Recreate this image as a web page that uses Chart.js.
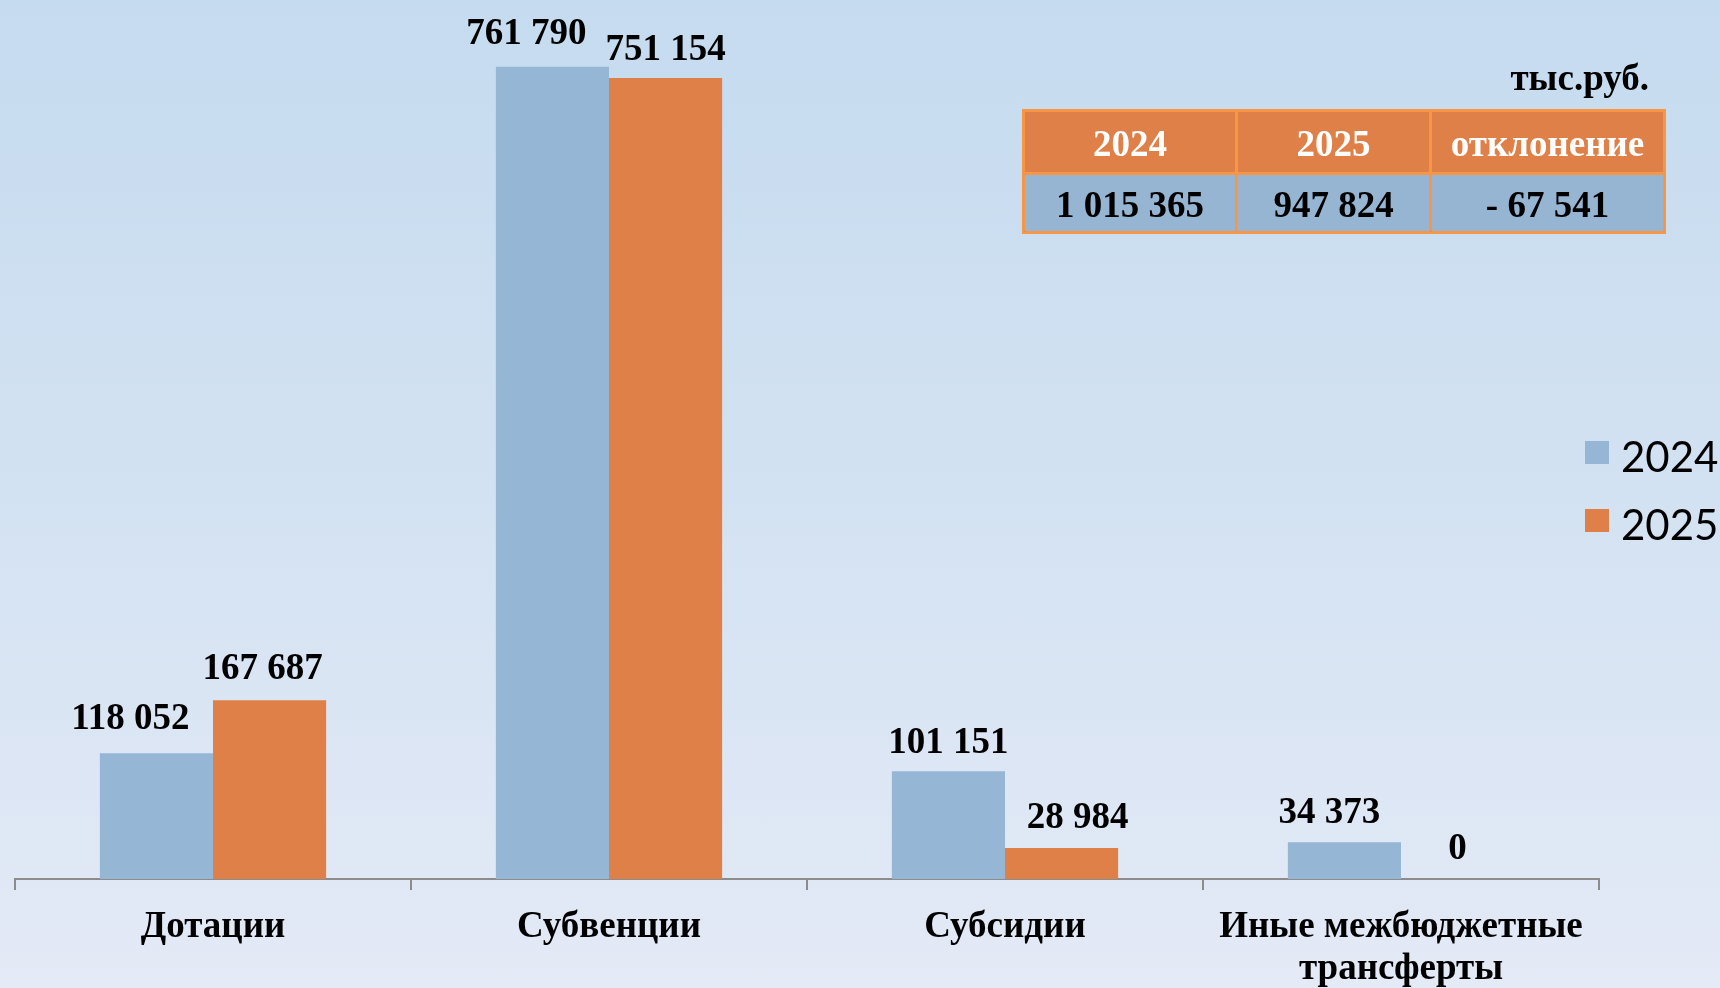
<!DOCTYPE html>
<html>
<head>
<meta charset="utf-8">
<script src="https://cdn.jsdelivr.net/npm/chart.js@4/dist/chart.umd.min.js"></script>
<style>
html,body{margin:0;padding:0;width:1720px;height:988px;overflow:hidden;}
body{position:relative;background:linear-gradient(to bottom,#C5DBEF 0%,#D3E2F2 50%,#E4EAF6 100%);}
#c{position:absolute;left:0;top:0;}
#unit{position:absolute;right:71px;top:59px;font:bold 37px 'Liberation Serif';line-height:37px;color:#000;white-space:nowrap;}
#tbl{position:absolute;left:1022px;top:109px;border-collapse:collapse;table-layout:fixed;}
#tbl td{border:3px solid #F79646;text-align:center;vertical-align:middle;font:bold 37px 'Liberation Serif';white-space:nowrap;}
#tbl tr.h td{background:#DF8049;color:#fff;height:57px;padding:3px 0 0 0;}
#tbl tr.v td{background:#95B5D3;color:#000;height:53px;padding:3px 0 0 0;}
</style>
</head>
<body>
<canvas id="c" width="1720" height="988"></canvas>
<div id="unit"></div>
<table id="tbl"><colgroup><col style="width:213px"><col style="width:194px"><col style="width:234px"></colgroup><tbody></tbody></table>
<script>
// ---- data ----
const categories = ['Дотации', 'Субвенции', 'Субсидии', ['Иные межбюджетные', 'трансферты']];
const seriesNames = ['2024', '2025'];
const values2024 = [118052, 761790, 101151, 34373];
const values2025 = [167687, 751154, 28984, 0];
const tableHeaders = ['2024', '2025', 'отклонение'];
const tableValues = ['1 015 365', '947 824', '- 67 541'];
const unitLabel = 'тыс.руб.';

const colors = ['#95B6D4', '#DE8047'];

function fmt(n) { return String(n).replace(/\B(?=(\d{3})+(?!\d))/g, ' '); }

// ---- table ----
document.getElementById('unit').textContent = unitLabel;
const tbody = document.querySelector('#tbl tbody');
const trh = document.createElement('tr'); trh.className = 'h';
tableHeaders.forEach(t => { const td = document.createElement('td'); td.textContent = t; trh.appendChild(td); });
const trv = document.createElement('tr'); trv.className = 'v';
tableValues.forEach(t => { const td = document.createElement('td'); td.textContent = t; trv.appendChild(td); });
tbody.appendChild(trh); tbody.appendChild(trv);

// ---- plugins ----
const valueLabels = {
  id: 'valueLabels',
  afterDatasetsDraw(chart, args, opts) {
    const ctx = chart.ctx;
    ctx.save();
    ctx.font = opts.font;
    ctx.fillStyle = '#000';
    ctx.textAlign = 'center';
    ctx.textBaseline = 'alphabetic';
    chart.data.datasets.forEach((ds, di) => {
      const meta = chart.getDatasetMeta(di);
      meta.data.forEach((bar, i) => {
        const dx = opts.dx[di][i], gap = opts.gap[di][i];
        ctx.fillText(fmt(ds.data[i]), bar.x + dx, bar.y - gap);
      });
    });
    ctx.restore();
  }
};

const sideLegend = {
  id: 'sideLegend',
  afterDraw(chart, args, opts) {
    const ctx = chart.ctx;
    ctx.save();
    chart.data.datasets.forEach((ds, di) => {
      const y = opts.top + di * opts.step;
      ctx.fillStyle = ds.backgroundColor;
      ctx.fillRect(opts.x, y, opts.box, opts.box - 1);
      ctx.fillStyle = '#000';
      ctx.font = opts.font;
      ctx.textAlign = 'left';
      ctx.textBaseline = 'alphabetic';
      ctx.fillText(ds.label, opts.x + opts.textGap, y + opts.baseline);
    });
    ctx.restore();
  }
};

new Chart(document.getElementById('c'), {
  type: 'bar',
  data: {
    labels: categories,
    datasets: [
      { label: seriesNames[0], data: values2024, backgroundColor: colors[0] },
      { label: seriesNames[1], data: values2025, backgroundColor: colors[1] }
    ]
  },
  options: {
    responsive: false,
    animation: false,
    devicePixelRatio: 1,
    layout: { padding: { left: 15, right: 121, top: 26, bottom: 0 } },
    datasets: { bar: { categoryPercentage: 0.5714, barPercentage: 1.0, borderWidth: 0 } },
    plugins: {
      legend: { display: false },
      tooltip: { enabled: false },
      valueLabels: {
        font: "bold 37px 'Liberation Serif'",
        dx: [[-26, -26, 0, -15], [-7, 0, 16, 0]],
        gap: [[24, 23, 18, 19], [21, 18, 20, 20]]
      },
      sideLegend: {
        x: 1585, top: 441, step: 68, box: 24, textGap: 36, baseline: 31,
        font: "42px Lato"
      }
    },
    scales: {
      y: { display: false, min: 0, max: 800000 },
      x: {
        offset: true,
        grid: { display: true, offset: true, drawOnChartArea: false, drawTicks: true, tickLength: 11, color: '#8C8C8C', lineWidth: 2 },
        border: { display: true, color: '#8C8C8C', width: 2 },
        ticks: {
          color: '#000', padding: 17, maxRotation: 0, autoSkip: false,
          font: { family: 'Liberation Serif', weight: 'bold', size: 37, lineHeight: 1.13 }
        },
        afterFit(scale) { scale.height = 109; }
      }
    }
  },
  plugins: [valueLabels, sideLegend]
});
</script>
</body>
</html>
